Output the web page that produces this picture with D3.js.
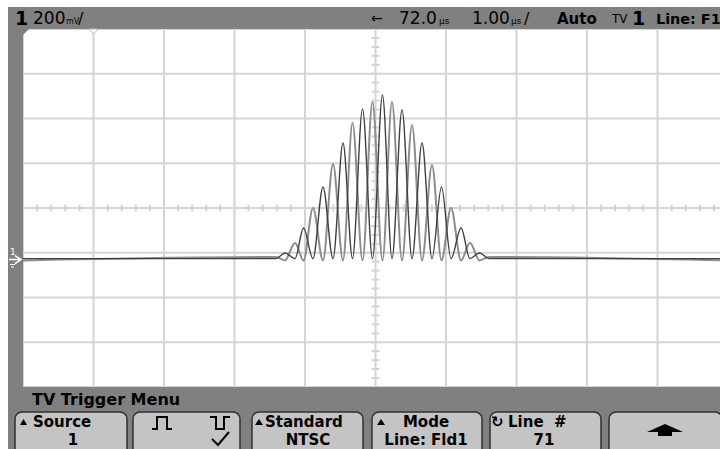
<!DOCTYPE html>
<html><head><meta charset="utf-8">
<script src="https://cdn.jsdelivr.net/npm/d3@7"></script>
<style>
html,body{margin:0;padding:0;background:#fff;}
svg{display:block;font-family:"DejaVu Sans",sans-serif;}
</style></head>
<body>
<script>
const timeDomain = [67, 77];          // µs across 10 divisions (72.0 µs at centre, 1.00 µs/div)
const voltDomain = [-0.5698, 1.0302]; // V across 8 divisions (200 mV/div)
const centerTime = 72.0;
const centerVolt = 0.2302;
const sweepEdges = [67, 77];
const peakTimes = [70.589, 70.716, 70.858, 70.979, 71.113, 71.255, 71.397, 71.539, 71.674, 71.816, 71.957,
                   72.099, 72.234, 72.376, 72.518, 72.660, 72.801, 72.936, 73.071, 73.213, 73.340, 73.475, 73.610];
const traceAVolts = [0, 0.029, 0, 0.141, 0, 0.324, 0, 0.521, 0, 0.673, 0, 0.735, 0, 0.668, 0, 0.521, 0, 0.324, 0, 0.141, 0, 0.029, 0];
const traceBVolts = [0.011, 0, 0.074, 0, 0.230, 0, 0.427, 0, 0.610, 0, 0.704, 0, 0.704, 0, 0.601, 0, 0.422, 0, 0.230, 0, 0.074, 0, 0.011];
const traceABase = 0.004;
const traceBBase = -0.004;
const softkeyLine1 = ["Source", "", "Standard", "Mode", "Line  #", ""];
const softkeyLine2 = ["1", "", "NTSC", "Line: Fld1", "71", ""];

const W = 720, H = 449;
const svg = d3.select("body").append("svg").attr("width", W).attr("height", H);
svg.append("rect").attr("width", W).attr("height", H).attr("fill", "#fff");
// frame
svg.append("rect").attr("x", 8).attr("y", 7).attr("width", W - 8).attr("height", H - 7).attr("fill", "#808080");

const x = d3.scaleLinear().domain(timeDomain).range([23, 728]);
const y = d3.scaleLinear().domain(voltDomain).range([387, 29]);

svg.append("defs").append("clipPath").attr("id", "plot")
  .append("rect").attr("x", 23).attr("y", 29).attr("width", 705).attr("height", 358);
const plot = svg.append("g").attr("clip-path", "url(#plot)");
plot.append("rect").attr("x", 23).attr("y", 29).attr("width", 705).attr("height", 358).attr("fill", "#fff");

const gridCol = "#d4d4d4";
const vDivs = d3.range(timeDomain[0], timeDomain[1] + 0.001, 1);
const hDivs = d3.range(0, 9).map(k => voltDomain[0] + k * 0.2);
plot.selectAll("line.vg").data(vDivs).join("line")
  .attr("x1", d => x(d)).attr("x2", d => x(d)).attr("y1", 29).attr("y2", 387)
  .attr("stroke", gridCol).attr("stroke-width", 2);
plot.selectAll("line.hg").data(hDivs).join("line")
  .attr("y1", d => y(d)).attr("y2", d => y(d)).attr("x1", 23).attr("x2", 728)
  .attr("stroke", gridCol).attr("stroke-width", 2);
// minor ticks on the centre lines
const tMinor = d3.range(timeDomain[0], timeDomain[1] + 0.001, 0.2);
plot.selectAll("line.tm").data(tMinor).join("line")
  .attr("x1", d => x(d)).attr("x2", d => x(d))
  .attr("y1", y(centerVolt) - 3.5).attr("y2", y(centerVolt) + 3.5)
  .attr("stroke", gridCol).attr("stroke-width", 2);
const vMinor = d3.range(0, 41).map(k => voltDomain[0] + k * 0.04);
plot.selectAll("line.vm").data(vMinor).join("line")
  .attr("y1", d => y(d)).attr("y2", d => y(d))
  .attr("x1", x(centerTime) - 4).attr("x2", x(centerTime) + 4)
  .attr("stroke", gridCol).attr("stroke-width", 2);

// traces
function tracePoints(volts, base) {
  const pts = [[sweepEdges[0], base]];
  peakTimes.forEach((t, i) => pts.push([t, volts[i] === 0 ? base : volts[i]]));
  pts.push([sweepEdges[1], base]);
  return pts;
}
const line = d3.line().x(d => x(d[0])).y(d => y(d[1])).curve(d3.curveMonotoneX);
plot.append("path").attr("d", line(tracePoints(traceBVolts, traceBBase)))
  .attr("fill", "none").attr("stroke", "#8c8c8c").attr("stroke-width", 2);
plot.append("path").attr("d", line(tracePoints(traceAVolts, traceABase)))
  .attr("fill", "none").attr("stroke", "#404040").attr("stroke-width", 1.4);

// markers on plot edge
svg.append("path").attr("d", "M23,29 H29 L23,35 Z").attr("fill", "#808080");
svg.append("path").attr("d", `M${x(timeDomain[0] + 1) - 4.5},29 H${x(timeDomain[0] + 1) + 4.5} L${x(timeDomain[0] + 1)},34 Z`)
  .attr("fill", "#fff").attr("stroke", "#b8b8b8").attr("stroke-width", 1);
// ground marker
const gy = y(0);
svg.append("text").attr("x", 10).attr("y", gy - 5).attr("font-size", 9).attr("fill", "#fff").text("1");
svg.append("path").attr("d", `M9,${gy} H20 M15,${gy - 4} L21,${gy} L15,${gy + 4}`)
  .attr("stroke", "#fff").attr("stroke-width", 1.5).attr("fill", "none");
svg.append("path").attr("d", `M10,${gy + 5} H15 M11,${gy + 7.5} H14`)
  .attr("stroke", "#fff").attr("stroke-width", 1).attr("fill", "none");

// ---- header ----
const hdr = svg.append("g").attr("fill", "#000");
const hb = 24;
hdr.append("text").attr("x", 15).attr("y", hb + 1).attr("font-size", 19).attr("font-weight", "bold").text("1");
hdr.append("text").attr("x", 33).attr("y", hb).attr("font-size", 17).text("200");
hdr.append("text").attr("x", 66).attr("y", hb).attr("font-size", 8).text("mV");
hdr.append("text").attr("x", 78).attr("y", hb).attr("font-size", 16).text("/");
hdr.append("text").attr("x", 371).attr("y", hb - 1).attr("font-size", 14).text("←");
hdr.append("text").attr("x", 399).attr("y", hb).attr("font-size", 17).text("72.0");
hdr.append("text").attr("x", 439).attr("y", hb).attr("font-size", 9).text("µs");
hdr.append("text").attr("x", 472).attr("y", hb).attr("font-size", 17).text("1.00");
hdr.append("text").attr("x", 511).attr("y", hb).attr("font-size", 9).text("µs");
hdr.append("text").attr("x", 524).attr("y", hb).attr("font-size", 16).text("/");
hdr.append("text").attr("x", 557).attr("y", hb).attr("font-size", 15).attr("font-weight", "bold").text("Auto");
hdr.append("text").attr("x", 612).attr("y", hb - 1).attr("font-size", 12).text("TV");
hdr.append("text").attr("x", 632).attr("y", hb + 1).attr("font-size", 19).attr("font-weight", "bold").text("1");
hdr.append("text").attr("x", 656).attr("y", hb).attr("font-size", 14.4).attr("font-weight", "bold").text("Line: F1");

// ---- menu ----
svg.append("text").attr("x", 32).attr("y", 405).attr("font-size", 16).attr("font-weight", "bold").text("TV Trigger Menu");
const boxes = [[15, 127], [133, 240], [252, 363], [372, 482], [490, 601], [609, 722]];
svg.selectAll("rect.sk").data(boxes).join("rect")
  .attr("x", d => d[0]).attr("y", 412).attr("width", d => d[1] - d[0]).attr("height", 50)
  .attr("rx", 7).attr("fill", "#c4c4c4").attr("stroke", "#303030").attr("stroke-width", 1.5);
const l1 = 427, l2 = 445;
const sk = svg.append("g").attr("font-weight", "bold").attr("font-size", 15).attr("fill", "#000");
sk.append("text").attr("x", 33).attr("y", l1).text(softkeyLine1[0]);
sk.append("text").attr("x", 73).attr("y", l2).attr("text-anchor", "middle").text(softkeyLine2[0]);
sk.append("text").attr("x", 265).attr("y", l1).text(softkeyLine1[2]);
sk.append("text").attr("x", 308).attr("y", l2).attr("text-anchor", "middle").text(softkeyLine2[2]);
sk.append("text").attr("x", 426).attr("y", l1).attr("text-anchor", "middle").text(softkeyLine1[3]);
sk.append("text").attr("x", 426).attr("y", l2).attr("text-anchor", "middle").text(softkeyLine2[3]);
sk.append("text").attr("x", 508).attr("y", l1).attr("xml:space", "preserve").text(softkeyLine1[4]);
sk.append("text").attr("x", 544).attr("y", l2).attr("text-anchor", "middle").text(softkeyLine2[4]);
sk.append("text").attr("x", 491).attr("y", l1).attr("font-size", 15).text("↻");
// small triangles
[[20, 27], [255, 263], [377, 385]].forEach(([a, b]) => {
  svg.append("path").attr("d", `M${a},425 H${b} L${(a + b) / 2},419 Z`).attr("fill", "#000");
});
// pulse polarity symbols
svg.append("path").attr("d", "M152,429 H157 V417 H167 V429 H172").attr("fill", "none").attr("stroke", "#000").attr("stroke-width", 2);
svg.append("path").attr("d", "M210,417 H216 V429 H224 V417 H230").attr("fill", "none").attr("stroke", "#000").attr("stroke-width", 2);
svg.append("path").attr("d", "M212,439 L218,445 L229,432").attr("fill", "none").attr("stroke", "#000").attr("stroke-width", 2);
// up arrow softkey
svg.append("path").attr("d", "M665,424 L683,432 H672 V436 H658 V432 H647 Z").attr("fill", "#000");
</script>
</body></html>
